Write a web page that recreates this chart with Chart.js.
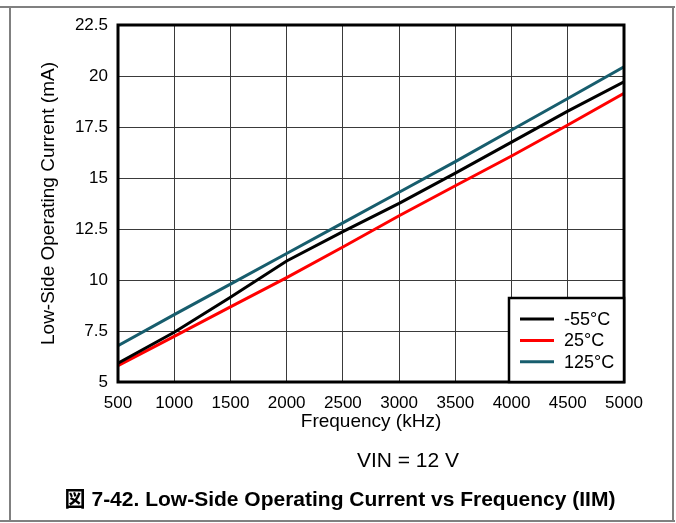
<!DOCTYPE html>
<html>
<head>
<meta charset="utf-8">
<script src="https://cdn.jsdelivr.net/npm/chart.js@4.4.1/dist/chart.umd.min.js"></script>
<style>
  body { margin: 0; background: #fff; font-family: "Liberation Sans", Arial, sans-serif; }
  #wrap { position: relative; width: 676px; height: 523px; overflow: hidden; }
  #chartBox { position: absolute; left: 0; top: 0; width: 676px; height: 523px; }
  .rule { position: absolute; background: #808080; }
  .note { position: absolute; color: #000; white-space: nowrap; transform: translate(-50%, -50%); }
</style>
</head>
<body>
<div id="wrap">
  <div class="rule" style="left:0;top:6px;width:675px;height:2px"></div>
  <div class="rule" style="left:0;top:520px;width:675px;height:2px"></div>
  <div class="rule" style="left:9px;top:6px;width:2px;height:516px"></div>
  <div class="rule" style="left:672px;top:6px;width:2px;height:516px"></div>
  <div id="chartBox"><canvas id="myChart"></canvas></div>
  <div class="note" style="left:408px;top:460px;font-size:21px">VIN = 12 V</div>
  <div class="note" style="left:340px;top:497px;font-size:21px;font-weight:bold"><span style="font-family:'Noto Sans CJK JP'">図</span> 7-42. Low-Side Operating Current vs Frequency (IIM)</div>
</div>
<script>
// values
const freq = [500, 1000, 1500, 2000, 2500, 3000, 3500, 4000, 4500, 5000];
const tempLabels = ['-55°C', '25°C', '125°C'];
const cur_m55 = [5.92, 7.44, 9.15, 10.93, 12.37, 13.76, 15.24, 16.76, 18.28, 19.72];
const cur_25 = [5.8, 7.24, 8.68, 10.12, 11.62, 13.15, 14.62, 16.08, 17.6, 19.15];
const cur_125 = [6.78, 8.3, 9.8, 11.3, 12.8, 14.3, 15.8, 17.35, 18.9, 20.45];
const lineColors = ['#000000', '#ff0000', '#175d6d'];

const ctx = document.getElementById('myChart');

const toPts = (ys) => freq.map((f, i) => ({ x: f, y: ys[i] }));

// plot frame + legend box in the lower right corner
const framePlugin = {
    id: 'framePlugin',
    afterDraw(chart) {
        const c = chart.ctx;
        const a = chart.chartArea;
        c.save();
        c.strokeStyle = '#000';
        c.lineWidth = 3;
        c.strokeRect(a.left, a.top, a.right - a.left, a.bottom - a.top);

        const w = 115, h = 84;
        const x0 = a.right - w, y0 = a.bottom - h;
        c.fillStyle = '#fff';
        c.fillRect(x0, y0, w, h);
        c.lineWidth = 2.5;
        c.strokeRect(x0, y0, w, h);
        c.font = '18px "Liberation Sans", Arial, sans-serif';
        c.textBaseline = 'middle';
        chart.data.datasets.forEach((ds, i) => {
            const y = y0 + 21 + i * 21.4;
            c.strokeStyle = ds.borderColor;
            c.lineWidth = 3;
            c.beginPath();
            c.moveTo(x0 + 11, y);
            c.lineTo(x0 + 45, y);
            c.stroke();
            c.fillStyle = '#000';
            c.fillText(ds.label, x0 + 55, y + 1);
        });
        c.restore();
    }
};

const tickFont = { size: 17, family: '"Liberation Sans", Arial' };
const titleFont = { size: 19, family: '"Liberation Sans", Arial' };

const myChart = new Chart(ctx, {
    type: 'line',
    data: {
        datasets: [
            { label: tempLabels[0], data: toPts(cur_m55), borderColor: lineColors[0] },
            { label: tempLabels[1], data: toPts(cur_25), borderColor: lineColors[1] },
            { label: tempLabels[2], data: toPts(cur_125), borderColor: lineColors[2] }
        ]
    },
    options: {
        responsive: true,
        maintainAspectRatio: false,
        animation: false,
        layout: { padding: { left: 37, top: 25, right: 52, bottom: 90 } },
        elements: {
            point: { radius: 0 },
            line: { borderWidth: 3, tension: 0, fill: false }
        },
        plugins: {
            legend: { display: false },
            tooltip: { enabled: false }
        },
        scales: {
            x: {
                type: 'linear',
                min: 500,
                max: 5000,
                ticks: { stepSize: 500, color: '#000', padding: 11, maxRotation: 0, font: tickFont,
                         callback: (v) => String(v) },
                grid: { color: '#3a3a3a', lineWidth: 1, drawTicks: false },
                border: { display: false },
                title: { display: true, text: 'Frequency (kHz)', color: '#000', padding: 0, font: titleFont },
                afterFit: (s) => { s.height = 51; }
            },
            y: {
                min: 5,
                max: 22.5,
                ticks: { stepSize: 2.5, color: '#000', padding: 10, font: tickFont,
                         callback: (v) => String(v) },
                grid: { color: '#3a3a3a', lineWidth: 1, drawTicks: false },
                border: { display: false },
                title: { display: true, text: 'Low-Side Operating Current (mA)', color: '#000', padding: 0, font: titleFont },
                afterFit: (s) => { s.width = 81; }
            }
        }
    },
    plugins: [framePlugin]
});
</script>
</body>
</html>
